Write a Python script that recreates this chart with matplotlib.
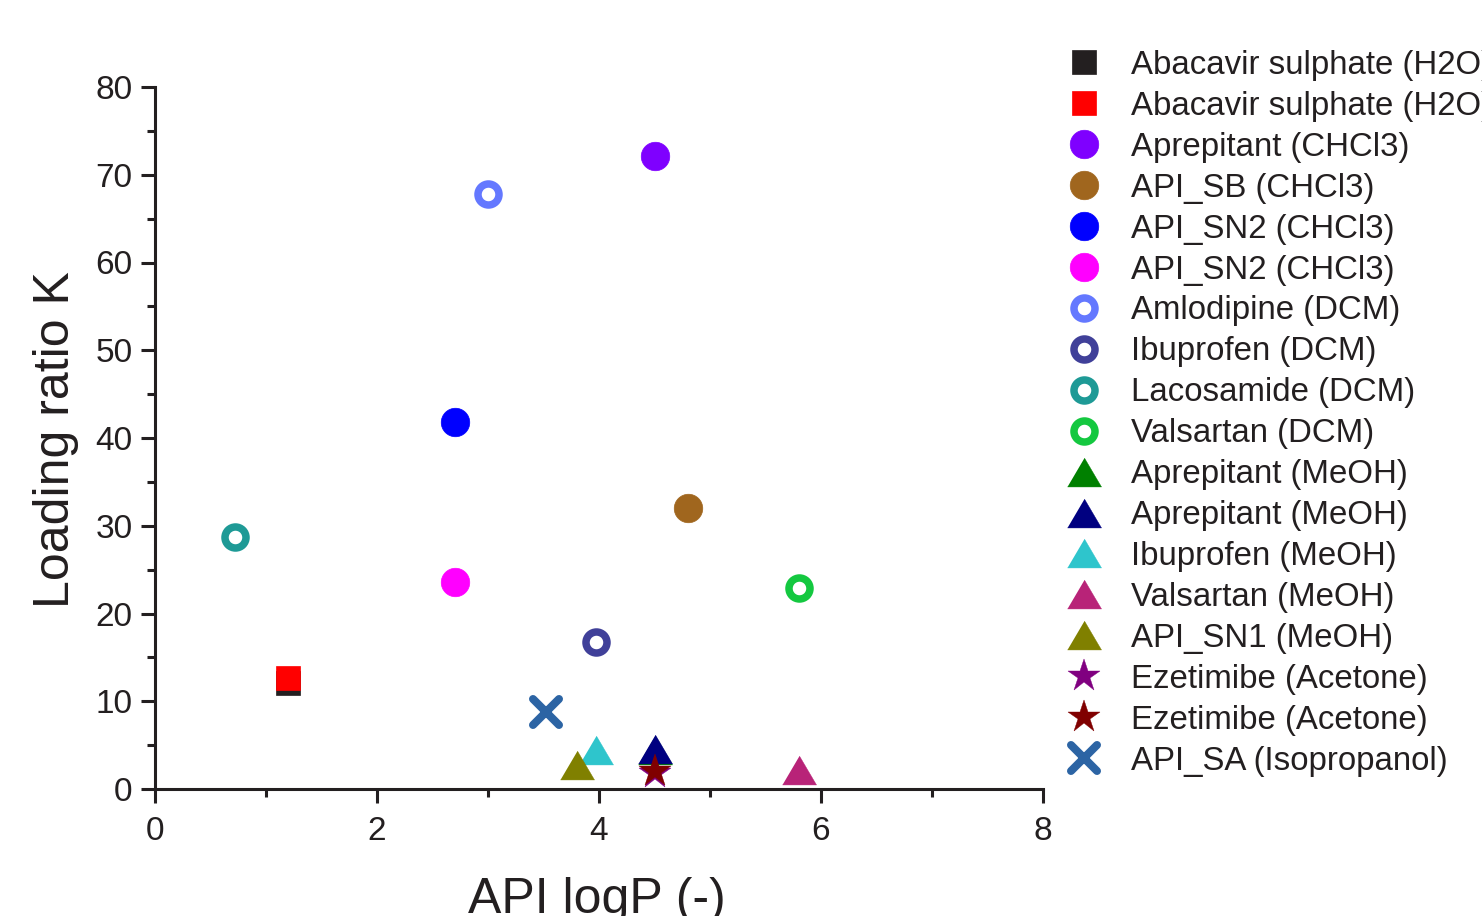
import matplotlib.pyplot as plt
from matplotlib.markers import MarkerStyle
from matplotlib.ticker import MultipleLocator

plt.rcParams["font.family"] = ["Liberation Sans", "DejaVu Sans"]

INK = "#231f20"

# API logP vs loading ratio, one entry per API / solvent
labels = [
    "Abacavir sulphate (H2O)",
    "Abacavir sulphate (H2O)",
    "Aprepitant (CHCl3)",
    "API_SB (CHCl3)",
    "API_SN2 (CHCl3)",
    "API_SN2 (CHCl3)",
    "Amlodipine (DCM)",
    "Ibuprofen (DCM)",
    "Lacosamide (DCM)",
    "Valsartan (DCM)",
    "Aprepitant (MeOH)",
    "Aprepitant (MeOH)",
    "Ibuprofen (MeOH)",
    "Valsartan (MeOH)",
    "API_SN1 (MeOH)",
    "Ezetimibe (Acetone)",
    "Ezetimibe (Acetone)",
    "API_SA (Isopropanol)",
]
logp = [1.2, 1.2, 4.5, 4.8, 2.7, 2.7, 3.0, 3.97, 0.72, 5.8,
        4.5, 4.5, 3.97, 5.8, 3.8, 4.5, 4.5, 3.52]
k_ratio = [12.1, 12.6, 72.1, 32.0, 41.8, 23.6, 67.8, 16.8, 28.7, 22.9,
           4.4, 4.6, 4.5, 2.2, 2.7, 1.8, 2.0, 8.8]
colors = ["#231f20", "#ff0000", "#7f00ff", "#a0661e", "#0000ff", "#ff00ff",
          "#6478ff", "#404099", "#1e9a96", "#14c840",
          "#008000", "#000080", "#2ec5cc", "#b82378", "#808000",
          "#800080", "#800000", "#2c64a4"]
kinds = ["square", "square", "dot", "dot", "dot", "dot",
         "ring", "ring", "ring", "ring",
         "tri", "tri", "tri", "tri", "tri",
         "star", "star", "cross"]

px = 0.72  # points per pixel at dpi 100
tri = [(-1, -0.85), (1, -0.85), (0, 0.85)]

fig = plt.figure(figsize=(14.82, 9.16), dpi=100)
ax = fig.add_axes([155 / 1482, 127 / 916, 888 / 1482, 702 / 916])

handles = []
for x, y, c, kind, lab in zip(logp, k_ratio, colors, kinds, labels):
    if kind == "square":
        style = dict(marker="s", ms=24 * px, mfc=c, mec=c, mew=0.5)
    elif kind == "dot":
        style = dict(marker="o", ms=28.5 * px, mfc=c, mec=c, mew=0.5)
    elif kind == "ring":
        style = dict(marker="o", ms=21 * px, mfc="white", mec=c, mew=7.5 * px)
    elif kind == "tri":
        style = dict(marker=tri, ms=34 * px, mfc=c, mec=c, mew=0.3)
    elif kind == "star":
        style = dict(marker="*", ms=34 * px, mfc=c, mec=c, mew=0.3)
    else:
        style = dict(marker=MarkerStyle("x", capstyle="round"),
                     ms=27 * px, mec=c, mew=8 * px)
    h, = ax.plot([x], [y], linestyle="none", label=lab, clip_on=False, **style)
    handles.append(h)

ax.set_xlim(0, 8)
ax.set_ylim(0, 80)
ax.xaxis.set_major_locator(MultipleLocator(2))
ax.xaxis.set_minor_locator(MultipleLocator(1))
ax.yaxis.set_major_locator(MultipleLocator(10))
ax.yaxis.set_minor_locator(MultipleLocator(5))

for side in ["top", "right"]:
    ax.spines[side].set_visible(False)
for side in ["left", "bottom"]:
    ax.spines[side].set_linewidth(2.2)
    ax.spines[side].set_color(INK)

ax.tick_params(which="major", direction="out", length=14 * px, width=2.2,
               color=INK, labelcolor=INK, labelsize=24, pad=6)
ax.tick_params(axis="x", which="major", pad=9)
ax.tick_params(which="minor", direction="out", length=8 * px, width=2.2,
               color=INK)

fig.text(56 / 1482, 1 - 440 / 916, "Loading ratio K", rotation=90,
         ha="center", va="center", fontsize=36, color=INK)
fig.text(597 / 1482, 3 / 916, "API logP (-)", ha="center", va="baseline",
         fontsize=36, color=INK)

fig.legend(handles=handles, loc="upper left",
           bbox_to_anchor=(1059 / 1482, 1 - 50 / 916),
           frameon=False, fontsize=23.8, numpoints=1, borderpad=0,
           borderaxespad=0, handlelength=1.5, handletextpad=0.67,
           labelspacing=0.3, labelcolor=INK)

fig.savefig("out.png", dpi=100)
